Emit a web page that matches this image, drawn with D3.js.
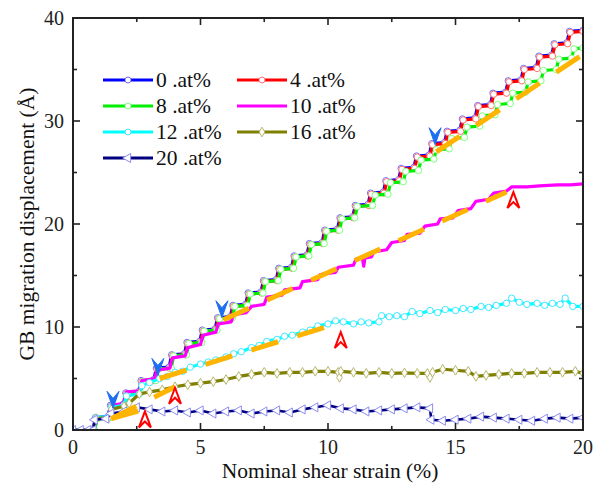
<!DOCTYPE html>
<html><head><meta charset="utf-8">
<script src="https://cdn.jsdelivr.net/npm/d3@7"></script>
<style>body{margin:0;background:#fff} text{font-family:"Liberation Serif","Times New Roman","Noto Serif","DejaVu Serif",serif;}</style>
</head><body><svg id="c" width="595" height="484"></svg>
<script>
// ---------- data ----------
const xTicks = [0, 5, 10, 15, 20];
const yTicks = [0, 10, 20, 30, 40];
const xMinor = [2.5, 7.5, 12.5, 17.5];
const yMinor = [5, 15, 25, 35];
const xTitle = "Nominal shear strain (%)";
const yTitle = "GB migration displacement (Å)";
const seriesNames = ["0 .at%", "4 .at%", "8 .at%", "10 .at%", "12 .at%", "16 .at%", "20 .at%"];
const seriesColors = ["#0000ff", "#ff0000", "#00ee00", "#ff00ff", "#00ffff", "#808000", "#000080"];
const markerColors = ["#6f6fff", "#ff7070", "#7cff7c", "none", "#40e8ff", "#b8b870", "#8c8cf0"];
const markerKinds = ["circle", "circle", "circle", "none", "circle", "diamond", "triangle"];

const s0 = [[0,0],[0.78,0],[0.88,1.2],[1.37,1.3],[1.47,2.4],[1.97,2.5],[2.07,3.6],[2.57,3.7],[2.67,4.8],[3.17,4.9],[3.27,6.0],[3.77,6.1],[3.87,7.3],[4.37,7.4],[4.47,8.5],[4.97,8.6],[5.07,9.7],[5.57,9.8],[5.67,10.9],[6.17,11.0],[6.27,12.1],[6.77,12.2],[6.87,13.3],[7.37,13.4],[7.47,14.5],[7.97,14.6],[8.07,15.7],[8.57,15.8],[8.67,16.9],[9.17,17.0],[9.27,18.1],[9.77,18.2],[9.87,19.4],[10.37,19.5],[10.47,20.6],[10.97,20.7],[11.07,21.8],[11.57,21.9],[11.67,23.0],[12.17,23.1],[12.27,24.2],[12.77,24.3],[12.87,25.4],[13.37,25.5],[13.47,26.6],[13.97,26.7],[14.07,27.8],[14.57,27.9],[14.67,29.0],[15.17,29.1],[15.27,30.2],[15.77,30.3],[15.87,31.5],[16.37,31.6],[16.47,32.7],[16.97,32.8],[17.07,33.9],[17.57,34.0],[17.67,35.1],[18.17,35.2],[18.27,36.3],[18.77,36.4],[18.87,37.5],[19.37,37.6],[19.47,38.7],[20,38.8]];
const s4 = [[0,0],[0.8,0],[0.9,1.1],[1.4,1.2],[1.5,2.3],[2.0,2.4],[2.1,3.5],[2.6,3.6],[2.7,4.7],[3.2,4.8],[3.3,5.9],[3.8,6.0],[3.9,7.2],[4.4,7.3],[4.5,8.4],[5.0,8.5],[5.1,9.6],[5.6,9.7],[5.7,10.8],[6.2,10.9],[6.3,12.0],[6.8,12.1],[6.9,13.2],[7.4,13.3],[7.5,14.4],[8.0,14.5],[8.1,15.6],[8.6,15.7],[8.7,16.8],[9.2,16.9],[9.3,18.0],[9.8,18.1],[9.9,19.3],[10.4,19.4],[10.5,20.5],[11.0,20.6],[11.1,21.7],[11.6,21.8],[11.7,22.9],[12.2,23.0],[12.3,24.1],[12.8,24.2],[12.9,25.3],[13.4,25.4],[13.5,26.5],[14.0,26.6],[14.1,27.7],[14.6,27.8],[14.7,28.9],[15.2,29.0],[15.3,30.1],[15.8,30.2],[15.9,31.4],[16.4,31.5],[16.5,32.6],[17.0,32.7],[17.1,33.8],[17.6,33.9],[17.7,35.0],[18.2,35.1],[18.3,36.2],[18.8,36.3],[18.9,37.4],[19.4,37.5],[19.5,38.6],[20,38.7]];
const s8 = [[0,0],[0.85,0],[0.95,1.1],[1.45,1.2],[1.55,2.3],[2.05,2.4],[2.15,3.5],[2.65,3.6],[2.75,4.7],[3.25,4.8],[3.35,5.9],[3.85,6.0],[3.95,7.2],[4.45,7.3],[4.55,8.4],[5.05,8.5],[5.15,9.6],[5.65,9.7],[5.75,10.8],[6.25,10.9],[6.35,12.0],[6.85,12.1],[6.95,13.2],[7.45,13.3],[7.55,14.4],[8.05,14.5],[8.15,15.6],[8.65,15.7],[8.75,16.8],[9.25,16.9],[9.35,18.0],[9.85,18.1],[9.95,19.3],[10.45,19.4],[10.55,20.5],[11.05,20.6],[11.15,21.7],[11.75,21.8],[11.85,22.8],[12.35,22.9],[12.45,24.0],[12.95,24.1],[13.05,25.1],[13.55,25.2],[13.65,26.2],[14.15,26.3],[14.25,27.2],[14.75,27.3],[14.85,28.3],[15.35,28.4],[15.45,29.4],[15.95,29.5],[16.05,30.5],[16.55,30.6],[16.65,31.6],[17.15,31.7],[17.25,32.7],[17.75,32.8],[17.85,33.8],[18.35,33.9],[18.45,34.9],[18.95,35.0],[19.05,36.0],[19.55,36.1],[19.65,37.0],[20,37.1]];
const s10 = [[0,0],[0.8,0],[0.9,1.1],[1.4,1.2],[1.5,2.4],[2.0,2.6],[2.1,3.7],[2.6,3.8],[2.7,4.8],[3.2,5.0],[3.3,5.8],[3.8,6.0],[3.9,7.0],[4.4,7.2],[4.5,8.0],[5.0,8.3],[5.1,9.2],[5.6,9.5],[5.7,10.3],[6.2,10.5],[6.3,11.2],[6.8,11.4],[7.0,12.0],[7.5,12.2],[7.6,12.9],[8.2,13.1],[8.3,13.6],[8.9,13.8],[9.0,14.4],[9.6,14.6],[9.7,15.1],[10.3,15.3],[10.4,15.8],[11.0,16.0],[11.1,16.6],[11.35,16.7],[11.4,15.9],[11.45,16.7],[11.7,16.8],[11.8,17.3],[12.3,17.5],[12.5,18.2],[13.0,18.4],[13.1,19.0],[13.6,19.1],[13.8,19.8],[14.3,20.0],[14.4,20.5],[14.9,20.6],[15.1,21.3],[15.6,21.5],[15.8,22.2],[16.3,22.4],[16.5,23.0],[17.0,23.2],[17.2,23.6],[17.8,23.6],[18.3,23.7],[19.0,23.8],[19.5,23.8],[20,23.9]];
const s12 = [[0,0],[0.8,0],[0.9,1.2],[1.4,1.3],[1.5,2.2],[2.0,2.4],[2.1,3.3],[2.6,3.5],[2.7,4.3],[3.0,4.6],[3.4,5.0],[3.7,5.2],[4.0,5.6],[4.3,5.7],[4.6,6.1],[5.0,6.4],[5.3,6.6],[5.6,6.8],[6.0,7.1],[6.3,7.4],[6.6,7.6],[7.0,8.0],[7.3,8.2],[7.6,8.6],[8.0,8.8],[8.3,9.1],[8.6,9.2],[9.0,9.5],[9.3,9.7],[9.6,10.1],[10.0,10.3],[10.3,10.6],[10.6,10.5],[11.0,10.3],[11.3,10.5],[11.6,10.4],[12.0,10.5],[12.1,11.1],[12.4,11.0],[12.7,11.1],[13.0,11.0],[13.3,11.5],[13.6,11.3],[14.0,11.6],[14.3,11.4],[14.6,11.7],[15.0,11.6],[15.3,11.8],[15.6,11.7],[16.0,12.0],[16.3,11.9],[16.6,12.1],[17.0,12.3],[17.2,12.8],[17.5,12.4],[17.8,12.2],[18.2,12.3],[18.5,12.1],[18.8,12.3],[19.1,12.2],[19.3,12.8],[19.6,12.0],[20,12.0]];
const s16 = [[0,0],[0.8,0],[0.9,1.1],[1.4,1.2],[1.5,2.0],[2.0,2.3],[2.2,2.6],[2.6,3.5],[3.0,3.7],[3.5,3.9],[4.0,4.2],[4.5,4.4],[5.0,4.55],[5.5,4.7],[6.0,4.9],[6.5,5.2],[7.0,5.4],[7.5,5.6],[8.0,5.5],[8.5,5.6],[9.0,5.6],[9.5,5.7],[10.0,5.7],[10.4,5.6],[10.45,5.1],[10.5,5.7],[11.0,5.6],[11.5,5.5],[12.0,5.6],[12.5,5.5],[13.0,5.55],[13.5,5.5],[13.9,5.5],[14.0,5.1],[14.1,5.6],[14.5,5.9],[15.0,5.8],[15.5,5.7],[15.8,5.2],[16.2,5.3],[16.7,5.4],[17.2,5.5],[17.7,5.5],[18.2,5.6],[18.7,5.6],[19.2,5.6],[19.7,5.7],[20,5.5]];
const s20 = [[0,0],[0.3,0],[0.6,0],[0.8,0],[0.85,1.0],[1.3,1.1],[1.5,1.6],[2.0,1.8],[2.5,2.2],[3.0,2.0],[3.5,1.8],[4.0,1.9],[4.5,1.7],[5.0,1.9],[5.5,1.6],[6.0,1.8],[6.5,1.9],[7.0,1.6],[7.5,1.8],[8.0,1.9],[8.5,1.7],[9.0,2.0],[9.5,2.2],[10.0,2.4],[10.5,2.1],[11.0,2.0],[11.5,1.8],[12.0,1.9],[12.5,2.0],[13.0,2.1],[13.5,2.2],[14.0,2.1],[14.05,1.0],[14.5,0.9],[15.0,1.0],[15.5,1.1],[16.0,1.3],[16.5,1.2],[17.0,1.1],[17.5,1.0],[18.0,0.9],[18.5,1.1],[19.0,1.2],[19.5,1.1],[20,1.2]];
const seriesData = [s0, s4, s8, s10, s12, s16, s20];

const fitTop = [[14.25, 27.0], [19.9, 36.3]];
const fit10 = [[5.9, 10.7], [17.0, 23.1]];
const fit12 = [[3.4, 5.0], [10.3, 10.3]];
const fit16 = [[1.5, 1.1], [4.0, 4.2]];
const fit20 = [[1.5, 1.1], [2.8, 2.0]];
const fitLines = [fitTop, fit10, fit12, fit16, fit20];

const downArrows = [[1.57, 2.1], [3.33, 5.3], [5.84, 10.9], [14.2, 27.7]];
const upArrows = [[2.82, 1.8], [4.0, 4.1], [10.5, 9.5], [17.27, 23.1]];

// ---------- chart ----------
const svg = d3.select("#c");
const L = 73, R = 583, T = 18, B = 430;
const x = d3.scaleLinear().domain([0, 20]).range([L, R]);
const y = d3.scaleLinear().domain([0, 40]).range([B, T]);

svg.append("defs").append("clipPath").attr("id", "clip")
  .append("rect").attr("x", L).attr("y", T).attr("width", R - L).attr("height", B - T);

const line = d3.line().x(d => x(d[0])).y(d => y(d[1]));
const plot = svg.append("g").attr("clip-path", "url(#clip)");

function marker(g, kind, color, px, py, size) {
  if (kind === "circle") {
    g.append("circle").attr("cx", px).attr("cy", py).attr("r", size)
      .attr("fill", "#fff").attr("stroke", color).attr("stroke-width", 1);
  } else if (kind === "diamond") {
    g.append("path").attr("d", d3.symbol().type(d3.symbolDiamond).size(size * size * 3)())
      .attr("transform", `translate(${px},${py})`)
      .attr("fill", "#fff").attr("stroke", color).attr("stroke-width", 1);
  } else if (kind === "triangle") {
    g.append("path").attr("d", d3.symbol().type(d3.symbolTriangle).size(size * size * 4)())
      .attr("transform", `translate(${px},${py}) rotate(-90)`)
      .attr("fill", "#fff").attr("stroke", color).attr("stroke-width", 1);
  }
}

seriesData.forEach((data, i) => {
  const g = plot.append("g");
  g.append("path").datum(data).attr("d", line)
    .attr("fill", "none").attr("stroke", seriesColors[i])
    .attr("stroke-width", i === 6 ? 2.6 : 3.2).attr("stroke-linejoin", "round");
  if (markerKinds[i] !== "none") {
    data.forEach(d => marker(g, markerKinds[i], markerColors[i], x(d[0]), y(d[1]), markerKinds[i] === "circle" ? 3.2 : 3));
  }
});

// fits
fitLines.forEach(f => {
  plot.append("path").datum(f).attr("d", line)
    .attr("fill", "none").attr("stroke", "#ffb400").attr("stroke-width", 5)
    .attr("stroke-dasharray", "28,20");
});

// arrows
downArrows.forEach(a => {
  const px = x(a[0]), py = y(a[1]);
  svg.append("path")
    .attr("d", `M${px},${py} L${px - 6},${py - 17} L${px},${py - 10} L${px + 6},${py - 17} Z`)
    .attr("fill", "#1e6ff0").attr("stroke", "#1e6ff0").attr("stroke-width", 1);
});
upArrows.forEach(a => {
  const px = x(a[0]), py = y(a[1]);
  svg.append("path")
    .attr("d", `M${px},${py} L${px - 6},${py + 16} L${px},${py + 10} L${px + 6},${py + 16} Z`)
    .attr("fill", "#fff").attr("stroke", "#ff0000").attr("stroke-width", 2).attr("stroke-linejoin", "miter");
});

// frame
const axisColor = "#222";
svg.append("rect").attr("x", L).attr("y", T).attr("width", R - L).attr("height", B - T)
  .attr("fill", "none").attr("stroke", axisColor).attr("stroke-width", 2);

// ticks (inward, all four sides)
const tickG = svg.append("g").attr("stroke", axisColor).attr("stroke-width", 1.6);
xTicks.forEach(t => {
  tickG.append("line").attr("x1", x(t)).attr("x2", x(t)).attr("y1", B).attr("y2", B - 7);
  tickG.append("line").attr("x1", x(t)).attr("x2", x(t)).attr("y1", T).attr("y2", T + 7);
});
xMinor.forEach(t => {
  tickG.append("line").attr("x1", x(t)).attr("x2", x(t)).attr("y1", B).attr("y2", B - 4);
  tickG.append("line").attr("x1", x(t)).attr("x2", x(t)).attr("y1", T).attr("y2", T + 4);
});
yTicks.forEach(t => {
  tickG.append("line").attr("x1", L).attr("x2", L + 7).attr("y1", y(t)).attr("y2", y(t));
  tickG.append("line").attr("x1", R).attr("x2", R - 7).attr("y1", y(t)).attr("y2", y(t));
});
yMinor.forEach(t => {
  tickG.append("line").attr("x1", L).attr("x2", L + 4).attr("y1", y(t)).attr("y2", y(t));
  tickG.append("line").attr("x1", R).attr("x2", R - 4).attr("y1", y(t)).attr("y2", y(t));
});

// tick labels
xTicks.forEach(t => {
  svg.append("text").attr("x", x(t)).attr("y", B + 24).attr("text-anchor", "middle")
    .attr("font-size", 20).attr("fill", "#222").text(t);
});
yTicks.forEach(t => {
  svg.append("text").attr("x", L - 9).attr("y", y(t) + 7).attr("text-anchor", "end")
    .attr("font-size", 20).attr("fill", "#222").text(t);
});

// titles
svg.append("text").attr("x", (L + R) / 2 + 2).attr("y", 478).attr("text-anchor", "middle")
  .attr("font-size", 21.5).attr("fill", "#111").text(xTitle);
svg.append("text").attr("transform", `translate(34,${(T + B) / 2}) rotate(-90)`)
  .attr("text-anchor", "middle")
  .attr("font-size", 21.5).attr("fill", "#111").text(yTitle);

// legend
const legPos = [[103, 80], [237, 80], [103, 106], [237, 106], [103, 132], [237, 132], [103, 158]];
seriesNames.forEach((name, i) => {
  const [lx, ly] = legPos[i];
  const g = svg.append("g");
  g.append("line").attr("x1", lx).attr("x2", lx + 50).attr("y1", ly).attr("y2", ly)
    .attr("stroke", seriesColors[i]).attr("stroke-width", 3.2);
  marker(g, markerKinds[i], markerColors[i], lx + 25, ly, 3);
  g.append("text").attr("x", lx + 53).attr("y", ly + 7)
    .attr("font-size", 21.5).attr("fill", "#111").text(name);
});
</script>
</body></html>
